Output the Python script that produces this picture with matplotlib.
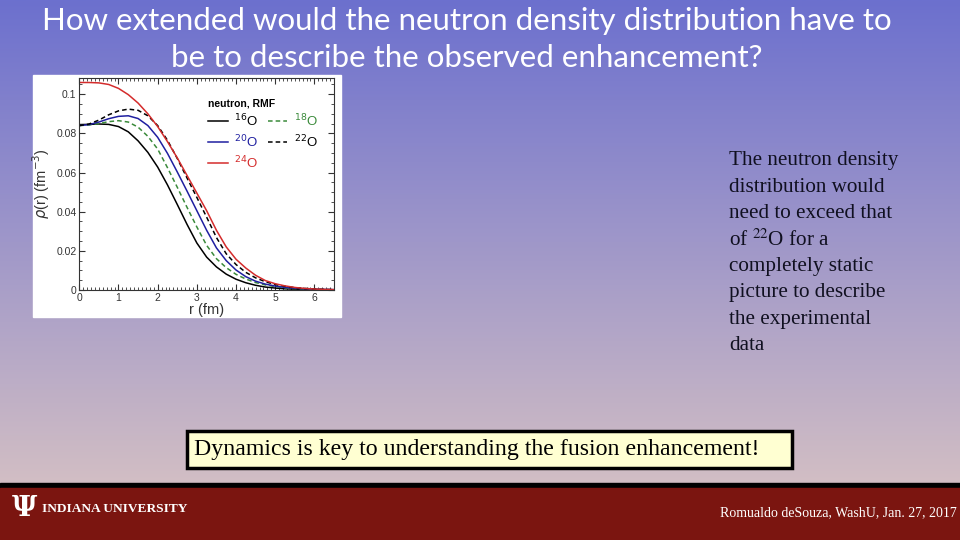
import numpy as np
import matplotlib
matplotlib.use("Agg")
import matplotlib.pyplot as plt
from matplotlib.patches import Rectangle

# ---------------- data ----------------
r = [0.0, 0.25, 0.5, 0.75, 1.0, 1.25, 1.5, 1.75, 2.0, 2.25, 2.5, 2.75, 3.0,
     3.25, 3.5, 3.75, 4.0, 4.25, 4.5, 4.75, 5.0, 5.25, 5.5, 5.75, 6.0, 6.25, 6.5]

rho_16O = [0.0845, 0.0846, 0.0848, 0.0846, 0.0835, 0.0808, 0.0762, 0.0703, 0.0628,
           0.0537, 0.0437, 0.0335, 0.0240, 0.0168, 0.0118, 0.0081, 0.0055, 0.0037,
           0.0024, 0.0015, 0.0010, 0.0006, 0.0004, 0.0003, 0.0002, 0.0001, 0.0001]
rho_18O = [0.0840, 0.0843, 0.0850, 0.0860, 0.0865, 0.0858, 0.0832, 0.0785, 0.0720,
           0.0625, 0.0525, 0.0422, 0.0322, 0.0228, 0.0160, 0.0114, 0.0080, 0.0056,
           0.0038, 0.0026, 0.0017, 0.0011, 0.0007, 0.0005, 0.0003, 0.0002, 0.0001]
rho_20O = [0.0840, 0.0845, 0.0858, 0.0875, 0.0887, 0.0890, 0.0876, 0.0840, 0.0780,
           0.0698, 0.0603, 0.0505, 0.0405, 0.0305, 0.0215, 0.0150, 0.0102, 0.0068,
           0.0045, 0.0030, 0.0020, 0.0013, 0.0009, 0.0006, 0.0004, 0.0003, 0.0002]
rho_22O = [0.0840, 0.0848, 0.0868, 0.0895, 0.0915, 0.0924, 0.0918, 0.0890, 0.0840,
           0.0765, 0.0672, 0.0572, 0.0473, 0.0372, 0.0268, 0.0185, 0.0130, 0.0090,
           0.0062, 0.0042, 0.0028, 0.0019, 0.0012, 0.0008, 0.0005, 0.0003, 0.0002]
rho_24O = [0.1060, 0.1060, 0.1058, 0.1050, 0.1030, 0.0998, 0.0955, 0.0900, 0.0835,
           0.0758, 0.0675, 0.0585, 0.0495, 0.0405, 0.0305, 0.0220, 0.0157, 0.0112,
           0.0075, 0.0048, 0.0032, 0.0021, 0.0013, 0.0008, 0.0005, 0.0003, 0.0002]

x_ticks = [0, 1, 2, 3, 4, 5, 6]
y_ticks = [0, 0.02, 0.04, 0.06, 0.08, 0.1]
y_tick_labels = ["0", "0.02", "0.04", "0.06", "0.08", "0.1"]

title_lines = ["How extended would the neutron density distribution have to",
               "be to describe the observed enhancement?"]
side_lines = ["The neutron density", "distribution would", "need to exceed that",
              r"of $^{22}$O for a", "completely static", "picture to describe",
              "the experimental", "data"]
box_text = "Dynamics is key to understanding the fusion enhancement!"
footer_text = "Romualdo deSouza, WashU, Jan. 27, 2017"

# ---------------- figure ----------------
W, H = 960, 540
fig = plt.figure(figsize=(9.6, 5.4), dpi=100)

def fx(px):
    return px / W

def fy(py):
    return 1 - py / H

# background gradient
bg = fig.add_axes([0, 0, 1, 1], zorder=0)
bg.set_xlim(0, W)
bg.set_ylim(H, 0)
bg.axis("off")
top = np.array([108, 112, 206]) / 255
bot = np.array([210, 190, 196]) / 255
t = np.linspace(0, 1, 256)[:, None]
grad = (top[None, :] * (1 - t) + bot[None, :] * t)[:, None, :]
bg.imshow(grad, extent=[0, W, 484, 0], aspect="auto")
bg.add_patch(Rectangle((0, 483), W, 5, color="black"))
bg.add_patch(Rectangle((0, 488), W, 52, color="#7b1510"))
# white chart panel
bg.add_patch(Rectangle((33, 75), 308, 242, color="white"))
# yellow box
bg.add_patch(Rectangle((187, 431), 605, 37, facecolor="#ffffd2",
                       edgecolor="black", linewidth=2.5))

# title
for i, line in enumerate(title_lines):
    bg.text(467, 21 + 37 * i, line, color="white", fontsize=22.5,
            family="Lato", ha="center", va="center")

# right text
for i, line in enumerate(side_lines):
    bg.text(729, 161 + 26.4 * i, line, color="#101020", fontsize=15.2,
            family="Liberation Serif", ha="left", va="center",
            math_fontfamily="stix")

bg.text(194, 450, box_text, color="black", fontsize=17.2,
        family="Liberation Serif", ha="left", va="center")

# footer
bg.text(24, 509, "Ψ", color="white", fontsize=20, family="DejaVu Serif",
        fontweight="bold", ha="center", va="center")
bg.text(42, 509, "INDIANA UNIVERSITY", color="white", fontsize=9.6,
        family="Liberation Serif", fontweight="bold", ha="left", va="center")
bg.text(957, 513, footer_text, color="white", fontsize=10,
        family="Liberation Serif", ha="right", va="center")

# ---------------- chart ----------------
ax = fig.add_axes([fx(79.3), fy(290), fx(334) - fx(79.3), fy(78) - fy(290)], zorder=2)
ax.set_facecolor("white")
lw = 1.1
l16, = ax.plot(r, rho_16O, color="black", lw=lw, label=r"$^{16}$O")
l18, = ax.plot(r, rho_18O, color="#3a8a3a", lw=lw, ls=(0, (3, 2)), label=r"$^{18}$O")
l20, = ax.plot(r, rho_20O, color="#1f1fa0", lw=lw, label=r"$^{20}$O")
l22, = ax.plot(r, rho_22O, color="black", lw=lw, ls=(0, (3, 2)), label=r"$^{22}$O")
l24, = ax.plot(r, rho_24O, color="#d42c2c", lw=lw, label=r"$^{24}$O")

ax.set_xlim(0, 6.5)
ax.set_ylim(0, 0.1083)
ax.set_xticks(x_ticks)
ax.set_yticks(y_ticks)
ax.set_yticklabels(y_tick_labels)
ax.set_xticks(np.arange(0, 6.51, 0.1), minor=True)
ax.set_yticks(np.arange(0, 0.108, 0.005), minor=True)
ax.tick_params(which="both", direction="in", top=True, right=True,
               labelsize=7.5, labelcolor="#333333", color="#333333", pad=2)
ax.tick_params(which="major", length=4)
ax.tick_params(which="minor", length=2)
for s in ax.spines.values():
    s.set_color("#333333")
    s.set_linewidth(0.8)
for lab in ax.get_xticklabels() + ax.get_yticklabels():
    lab.set_family("Liberation Sans")
ax.set_xlabel("r (fm)", fontsize=10.5, family="Liberation Sans", color="#333333", labelpad=0)
ax.set_ylabel(r"$\rho$(r) (fm$^{-3}$)", fontsize=10.5, family="Liberation Sans",
              color="#333333", labelpad=3)

leg = ax.legend(handles=[l16, l20, l24, l18, l22], ncol=2, frameon=False,
                loc="upper left", bbox_to_anchor=(0.485, 0.93),
                title="neutron, RMF", alignment="left",
                prop={"family": "Liberation Sans", "size": 9.5},
                title_fontproperties={"family": "Liberation Sans", "size": 7.5,
                                      "weight": "bold"},
                handlelength=1.5, handletextpad=0.5, columnspacing=0.7,
                labelspacing=0.33, borderaxespad=0)
for txt, ln in zip(leg.get_texts(), [l16, l20, l24, l18, l22]):
    txt.set_color(ln.get_color())

fig.savefig("out.png", dpi=100)
